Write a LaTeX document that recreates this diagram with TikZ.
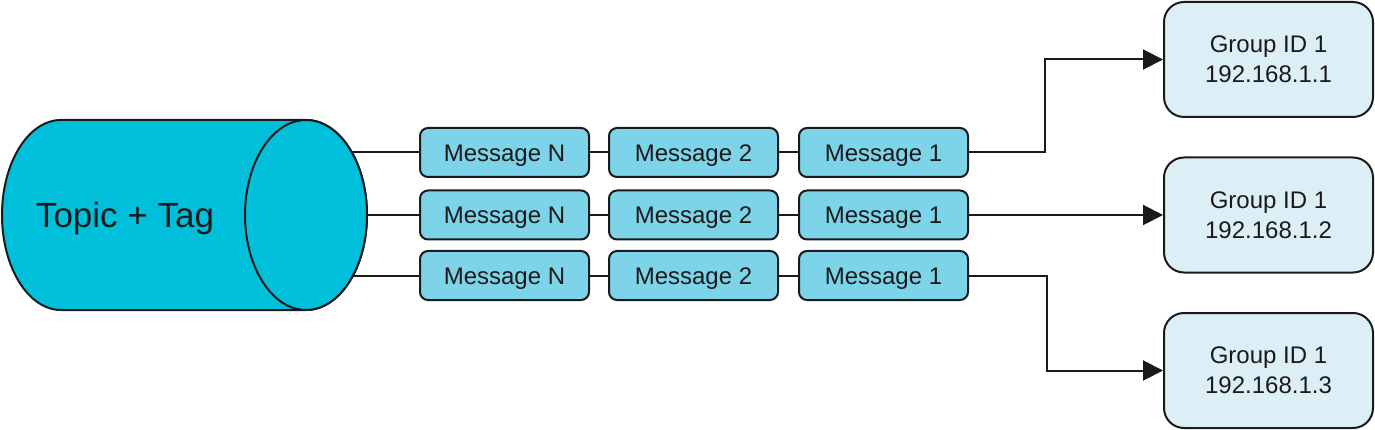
\documentclass[tikz,border=0pt]{standalone}
\usepackage{fontspec}
\setmainfont{Liberation Sans}
\usetikzlibrary{arrows.meta}
\definecolor{cylfill}{HTML}{00BFDB}
\definecolor{msgfill}{HTML}{7DD3E8}
\definecolor{grpfill}{HTML}{DDEFF6}
\definecolor{ink}{HTML}{1A1A1A}
\tikzset{
  msgbox/.style={draw=ink, line width=2pt, fill=msgfill, rounded corners=8pt,
    minimum width=169pt, minimum height=49pt, inner sep=0pt,
    text height=17.2pt, text depth=0pt,
    font=\fontsize{24}{28}\selectfont, text=ink},
  grpbox/.style={draw=ink, line width=2pt, fill=grpfill, rounded corners=20pt,
    minimum width=209pt, minimum height=115pt, inner sep=0pt, align=center,
    font=\fontsize{24}{30}\selectfont, text=ink},
  link/.style={draw=ink, line width=2pt},
  flow/.style={draw=ink, line width=2pt, -{Triangle[length=20pt,width=20pt]}}
}
\begin{document}
\begin{tikzpicture}[x=1pt,y=-1pt]
\useasboundingbox (0,0) rectangle (1375,430);
% cylinder
\path[draw=ink, line width=2pt, fill=cylfill]
  (61,120) -- (306,120) arc[start angle=90, end angle=-90, x radius=61pt, y radius=95pt]
  -- (61,310) arc[start angle=270, end angle=90, x radius=59pt, y radius=95pt] -- cycle;
\path[draw=ink, line width=2pt, fill=cylfill] (306,215) ellipse[x radius=61pt, y radius=95pt];
\node[font=\fontsize{35}{40}\selectfont, text=ink, text height=25pt, text depth=0pt, inner sep=0pt] (topic) at (125,215) {Topic + Tag};
\coordinate (c1) at (352,152.5);
\coordinate (c2) at (367,215);
\coordinate (c3) at (352,275.5);
% messages
\foreach \r/\y in {1/152.5,2/215,3/275.5}{
  \node[msgbox] (n\r) at (504.5,\y) {Message N};
  \node[msgbox] (m\r) at (693.5,\y) {Message 2};
  \node[msgbox] (o\r) at (883.5,\y) {Message 1};
}
\foreach \r in {1,2,3}{
  \draw[link] (c\r) -- (n\r.west);
  \draw[link] (n\r.east) -- (m\r.west);
  \draw[link] (m\r.east) -- (o\r.west);
}
% groups
\node[grpbox] (g1) at (1268.5,59.5) {Group ID 1\\192.168.1.1};
\node[grpbox] (g2) at (1268.5,215) {Group ID 1\\192.168.1.2};
\node[grpbox] (g3) at (1268.5,370.5) {Group ID 1\\192.168.1.3};
\draw[flow] (o1.east) -| (1045,100) |- (g1.west);
\draw[flow] (o2.east) -- (g2.west);
\draw[flow] (o3.east) -| (1047,330) |- (g3.west);
\end{tikzpicture}
\end{document}
